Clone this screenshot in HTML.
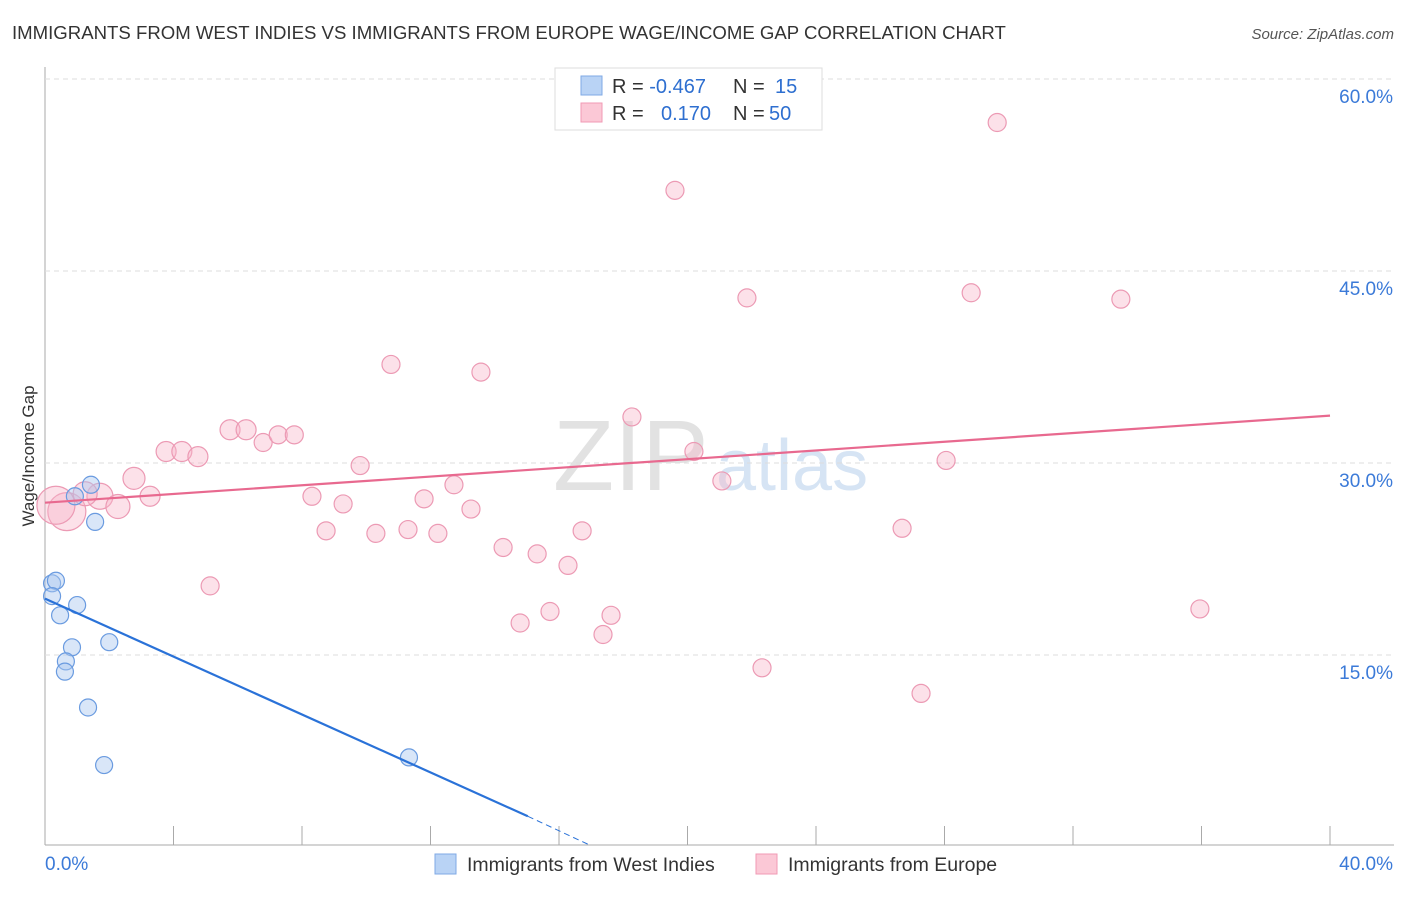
<!DOCTYPE html>
<html><head><meta charset="utf-8"><style>
body{margin:0;background:#fff;font-family:"Liberation Sans",sans-serif}
svg text{font-family:"Liberation Sans",sans-serif}
</style></head><body>
<svg id="c" width="1406" height="892">
<text x="12" y="39" font-size="18.6" fill="#333">IMMIGRANTS FROM WEST INDIES VS IMMIGRANTS FROM EUROPE WAGE/INCOME GAP CORRELATION CHART</text>
<text x="1394" y="39" font-size="15" fill="#555" font-style="italic" text-anchor="end">Source: ZipAtlas.com</text>
<text x="553" y="490" font-size="100" fill="#e2e2e2" font-family="Liberation Serif">ZIP</text>
<text x="716" y="490" font-size="72" fill="#d6e4f4">atlas</text>
<text transform="translate(34,456) rotate(-90)" font-size="17" fill="#333" text-anchor="middle">Wage/Income Gap</text>
<g id="grid"></g><g id="marks"></g>
<g>
<rect x="555" y="68" width="267" height="62" fill="#fff" stroke="#ddd"/>
<rect x="581" y="76" width="21" height="19" fill="#b9d3f5" stroke="#7fa9e5"/>
<rect x="581" y="103" width="21" height="19" fill="#fbc8d6" stroke="#f09ab4"/>
<text x="612" y="93" font-size="20" fill="#333">R = <tspan fill="#2e6fd0">-0.467</tspan><tspan x="733">N = </tspan><tspan x="775" fill="#2e6fd0">15</tspan></text>
<text x="612" y="120" font-size="20" fill="#333">R = <tspan x="661" fill="#2e6fd0">0.170</tspan><tspan x="733">N = </tspan><tspan x="769" fill="#2e6fd0">50</tspan></text>
</g>
<g>
<rect x="435" y="854" width="21" height="20" fill="#b9d3f5" stroke="#7fa9e5"/>
<text x="467" y="871" font-size="19.5" fill="#333">Immigrants from West Indies</text>
<rect x="756" y="854" width="21" height="20" fill="#fbc8d6" stroke="#f09ab4"/>
<text x="788" y="871" font-size="19.5" fill="#333">Immigrants from Europe</text>
</g>
</svg>
<script>
const xTicks=[0,4,8,12,16,20,24,28,32,36,40];
const yTicks=[15,30,45,60];
const blueX=[0.22,0.34,0.22,0.47,1.0,0.84,0.65,0.62,2.0,1.34,1.84,1.43,0.93,1.56,11.33];
const blueY=[20.6,20.8,19.6,18.1,18.9,15.6,14.5,13.7,16.0,10.9,6.4,28.3,27.4,25.4,7.0];
const pinkX=[0.68,0.34,1.71,1.25,2.27,2.77,3.27,3.77,4.26,4.76,5.76,6.26,6.79,7.26,7.76,5.14,8.31,8.75,9.28,9.81,10.3,10.77,11.3,11.8,12.23,12.73,13.26,13.57,14.26,14.79,15.32,15.72,16.28,16.72,17.37,17.62,18.27,18.8,19.61,20.2,21.07,21.85,22.32,26.68,27.27,28.05,28.83,29.64,33.49,35.95];
const pinkY=[26.2,26.7,27.4,27.6,26.6,28.8,27.4,30.9,30.9,30.5,32.6,32.6,31.6,32.2,32.2,20.4,27.4,24.7,26.8,29.8,24.5,37.7,24.8,27.2,24.5,28.3,26.4,37.1,23.4,17.5,22.9,18.4,22.0,24.7,16.6,18.1,33.6,58.0,51.3,30.9,28.6,42.9,14.0,24.9,12.0,30.2,43.3,56.6,42.8,18.6];
const pinkR=[19,19,13,12,12,11,10,10,10,10,10,10,9,9,9,9,9,9,9,9,9,9,9,9,9,9,9,9,9,9,9,9,9,9,9,9,9,9,9,9,9,9,9,9,9,9,9,9,9,9];
const X=v=>45+v/40*1285, Y=v=>847-v*12.8;
const ns="http://www.w3.org/2000/svg";
function mk(t,a,p){const e=document.createElementNS(ns,t);for(const k in a)e.setAttribute(k,a[k]);p.appendChild(e);return e;}
const g=document.getElementById('grid'),m=document.getElementById('marks');
let ax=mk('line',{x1:45,y1:67,x2:45,y2:845,stroke:'#aaa'},g);

let bx=mk('line',{x1:45,y1:845,x2:1394,y2:845,stroke:'#aaa'},g);

yTicks.forEach(v=>{const l=mk('line',{x1:45,y1:Y(v),x2:1394,y2:Y(v),stroke:'#ddd','stroke-dasharray':'5,4'},g);

const t=mk('text',{x:1393,y:Y(v)+24,'font-size':19,fill:'#3b7ad8','text-anchor':'end'},g);t.textContent=v.toFixed(1)+'%';
});
xTicks.forEach(v=>{const l=mk('line',{x1:X(v),y1:826,x2:X(v),y2:845,stroke:'#aaa'},g);
});
[[0,45,'start'],[40,1393,'end']].forEach(([v,x,a])=>{const t=mk('text',{x:x,y:870,'font-size':19,fill:'#3b7ad8','text-anchor':a},g);t.textContent=v.toFixed(1)+'%';
});
pinkX.forEach((v,i)=>{const c=mk('circle',{cx:X(v),cy:Y(pinkY[i]),r:pinkR[i],fill:'rgba(248,180,200,0.4)',stroke:'#ec9ab4','stroke-width':1.2},m);
});
blueX.forEach((v,i)=>{const c=mk('circle',{cx:X(v),cy:Y(blueY[i]),r:8.5,fill:'rgba(170,200,240,0.45)',stroke:'#6a9be0','stroke-width':1.2},m);
});
let pl=mk('line',{x1:X(0),y1:Y(26.9),x2:X(40),y2:Y(33.7),stroke:'#e8698f','stroke-width':2.2},m);

let bl=mk('line',{x1:X(0),y1:Y(19.4),x2:X(15.03),y2:Y(2.4),stroke:'#2a72d8','stroke-width':2.2},m);

let bd=mk('line',{x1:X(15.03),y1:Y(2.4),x2:X(17),y2:Y(0.1),stroke:'#2a72d8','stroke-width':1,'stroke-dasharray':'6,4'},m);

</script>
</body></html>
